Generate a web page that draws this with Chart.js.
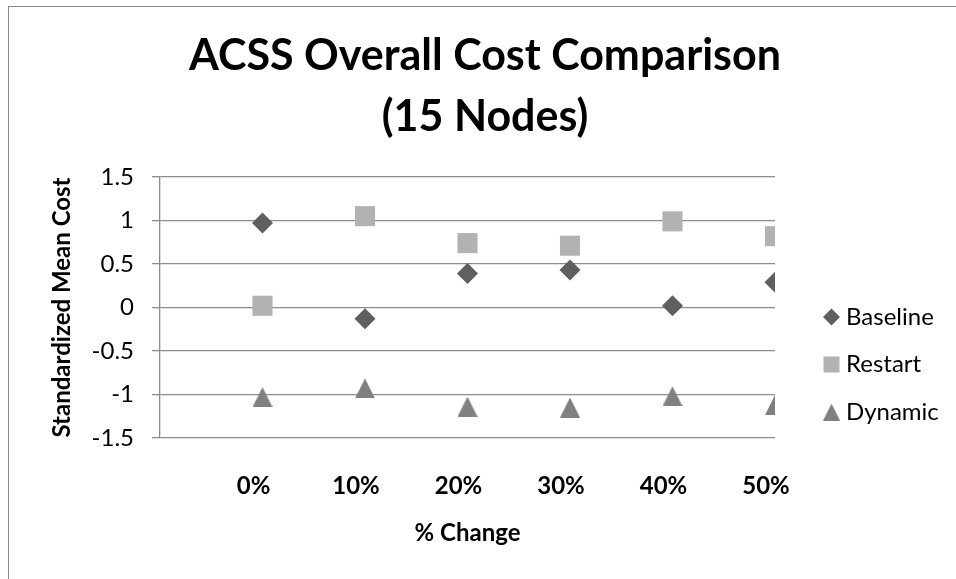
<!DOCTYPE html>
<html>
<head>
<meta charset="utf-8">
<title>ACSS Overall Cost Comparison</title>
<script src="https://cdn.jsdelivr.net/npm/chart.js@4.4.1/dist/chart.umd.min.js"></script>
<style>
  html, body { margin: 0; padding: 0; background: #fff; }
  #wrap { position: relative; width: 956px; height: 579px; overflow: hidden; }
  /* outer chart frame, only top and left edges are in view */
  #frame { position: absolute; left: 8px; top: 6px; width: 1200px; height: 800px;
           border-top: 1px solid #868686; border-left: 1px solid #868686; }
  #chart { position: absolute; left: 0; top: 0; }
</style>
</head>
<body>
<div id="wrap">
  <div id="frame"></div>
  <canvas id="chart" width="956" height="579"></canvas>
</div>
<script>
// Data
const changeLabels = ['0%', '10%', '20%', '30%', '40%', '50%'];
const baseline = [0.97, -0.13, 0.39, 0.43, 0.02, 0.29];
const restart = [0.02, 1.05, 0.74, 0.71, 0.99, 0.82];
const dynamic = [-1.03, -0.93, -1.14, -1.15, -1.02, -1.12];

const FONT = "Lato, 'Open Sans', sans-serif";
const GRID = '#8c8c8c';
const COLORS = {
  baseline: '#5f5f5f',
  restart: '#b2b2b2',
  dynamic: '#808080',
};

// Triangle marker centred on its bounding box (like the spreadsheet one)
function triangleMarker(size, color) {
  const c = document.createElement('canvas');
  c.width = size;
  c.height = size;
  const g = c.getContext('2d');
  g.fillStyle = color;
  g.beginPath();
  g.moveTo(size / 2, 0);
  g.lineTo(size, size);
  g.lineTo(0, size);
  g.closePath();
  g.fill();
  return c;
}

function toPoints(values) {
  return values.map((y, i) => ({ x: i + 1, y }));
}

// Legend drawn beside the plot, with the same marker shapes
function drawMarker(ctx, style, color, x, y, size) {
  ctx.fillStyle = color;
  if (style instanceof HTMLCanvasElement) {
    ctx.drawImage(style, x - size / 2, y - size / 2, size, size);
  } else if (style === 'rectRot') {
    ctx.beginPath();
    ctx.moveTo(x - size / 2, y);
    ctx.lineTo(x, y - size / 2);
    ctx.lineTo(x + size / 2, y);
    ctx.lineTo(x, y + size / 2);
    ctx.closePath();
    ctx.fill();
  } else {
    const s = size - 1;
    ctx.fillRect(x - s / 2, y - s / 2, s, s);
  }
}

const markerLegend = {
  id: 'markerLegend',
  afterDraw(chart, args, opts) {
    const { ctx, chartArea } = chart;
    ctx.save();
    ctx.font = opts.font;
    ctx.textBaseline = 'middle';
    ctx.textAlign = 'left';
    chart.data.datasets.forEach((ds, i) => {
      const y = chartArea.top + opts.firstRow + i * opts.rowGap;
      drawMarker(ctx, ds.pointStyle, ds.backgroundColor, chartArea.right + opts.markerX, y, opts.markerSize);
      ctx.fillStyle = opts.color;
      ctx.fillText(ds.label, chartArea.right + opts.textX, y);
    });
    ctx.restore();
  }
};

const ctx = document.getElementById('chart').getContext('2d');
new Chart(ctx, {
  type: 'scatter',
  data: {
    datasets: [{
      label: 'Baseline',
      data: toPoints(baseline),
      pointStyle: 'rectRot',
      backgroundColor: COLORS.baseline,
      borderWidth: 0,
      pointRadius: 10.5,
      pointHoverRadius: 10.5,
    }, {
      label: 'Restart',
      data: toPoints(restart),
      pointStyle: 'rect',
      backgroundColor: COLORS.restart,
      borderWidth: 0,
      pointRadius: 14.2,
      pointHoverRadius: 14.2,
    }, {
      label: 'Dynamic',
      data: toPoints(dynamic),
      pointStyle: triangleMarker(20, COLORS.dynamic),
      backgroundColor: COLORS.dynamic,
      borderWidth: 0,
      pointRadius: 10,
    }]
  },
  options: {
    responsive: false,
    animation: false,
    devicePixelRatio: 1,
    layout: { padding: { left: 14, right: 0, top: 0, bottom: 0 } },
    plugins: {
      legend: { display: false },
      tooltip: { enabled: false },
      title: {
        display: true,
        text: ['ACSS Overall Cost Comparison', '(15 Nodes)'],
        color: '#000',
        font: { family: FONT, size: 43, weight: 'bold', lineHeight: 61 / 43 },
        padding: { top: 26, bottom: 29 }
      },
      markerLegend: {
        font: `24px ${FONT}`,
        color: '#000',
        markerX: 56.5,
        textX: 71,
        firstRow: 140,
        rowGap: 47.5,
        markerSize: 17
      }
    },
    scales: {
      x: {
        type: 'linear',
        min: 0,
        max: 6,
        grid: { display: false },
        border: { display: false },
        ticks: {
          stepSize: 1,
          color: '#000',
          font: { family: FONT, size: 24, weight: 'bold' },
          padding: 26,
          labelOffset: -9,
          maxRotation: 0,
          autoSkip: false,
          callback: v => changeLabels[v - 1] ?? ''
        },
        title: {
          display: true,
          text: '% Change',
          color: '#000',
          font: { family: FONT, size: 24, weight: 'bold' },
          padding: { top: 0, bottom: 31.6 }
        },
        afterFit: s => { s.height = 141; }
      },
      y: {
        min: -1.5,
        max: 1.5,
        grid: { color: GRID, lineWidth: 1.3, tickLength: 8, drawTicks: true },
        border: { display: true, color: GRID, width: 1.3 },
        ticks: {
          stepSize: 0.5,
          color: '#000',
          font: { family: FONT, size: 24 },
          padding: 18,
          callback: v => String(v)
        },
        title: {
          display: true,
          text: 'Standardized Mean Cost',
          color: '#000',
          font: { family: FONT, size: 24, weight: 'bold' },
          padding: { top: 33.6, bottom: 0 }
        },
        afterFit: s => { s.width = 146; }
      },
      // keeps room on the right for the legend
      legendSpace: {
        type: 'linear',
        position: 'right',
        min: 0,
        max: 1,
        grid: { display: false },
        border: { display: false },
        ticks: { display: false },
        afterFit: s => { s.width = 181; }
      }
    }
  },
  plugins: [markerLegend]
});
</script>
</body>
</html>
